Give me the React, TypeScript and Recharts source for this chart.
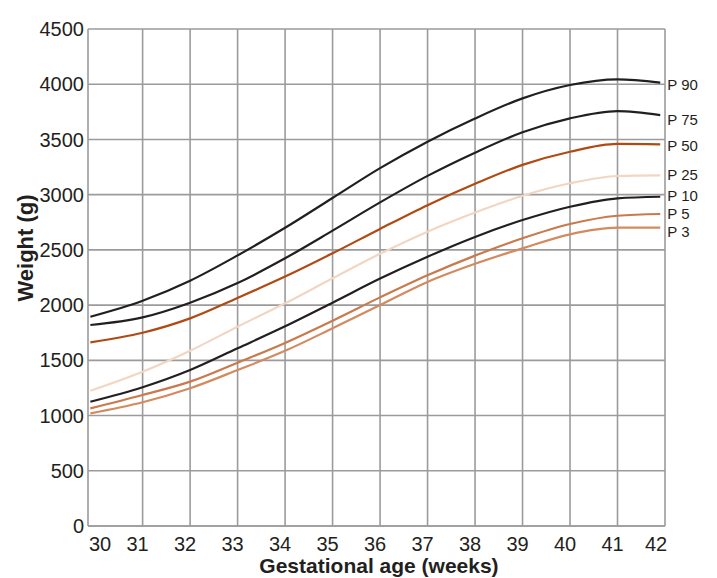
import { LineChart, Line, XAxis, YAxis, CartesianGrid, ReferenceLine } from 'recharts'

const weeks = [29.9, 31, 32, 33, 34, 35, 36, 37, 38, 39, 40, 41, 41.9]

const p90 = [1895, 2040, 2221, 2450, 2700, 2970, 3240, 3480, 3690, 3872, 3993, 4044, 4014]
const p75 = [1820, 1889, 2022, 2200, 2424, 2674, 2930, 3170, 3380, 3565, 3691, 3757, 3721]
const p50 = [1663, 1750, 1880, 2065, 2258, 2469, 2690, 2905, 3098, 3270, 3389, 3459, 3455]
const p25 = [1225, 1397, 1587, 1805, 2016, 2243, 2465, 2665, 2838, 2990, 3103, 3169, 3175]
const p10 = [1125, 1256, 1412, 1609, 1808, 2022, 2240, 2438, 2617, 2770, 2891, 2967, 2981]
const p5 = [1065, 1186, 1307, 1479, 1658, 1859, 2070, 2270, 2448, 2605, 2734, 2809, 2825]
const p3 = [1020, 1120, 1247, 1412, 1586, 1790, 2001, 2210, 2374, 2514, 2641, 2701, 2701]

const xTicks = [30, 31, 32, 33, 34, 35, 36, 37, 38, 39, 40, 41, 42]
const yTicks = [0, 500, 1000, 1500, 2000, 2500, 3000, 3500, 4000, 4500]
const gridWeeks = [31, 32, 33, 34, 35, 36, 37, 38, 39, 40, 41, 42]

const series = [
  { key: 'P 90', values: p90, color: '#231f20', shift: 2 },
  { key: 'P 75', values: p75, color: '#231f20', shift: 4 },
  { key: 'P 50', values: p50, color: '#b04a12', shift: 1 },
  { key: 'P 25', values: p25, color: '#f2d6c2', shift: -1 },
  { key: 'P 10', values: p10, color: '#231f20', shift: -1 },
  { key: 'P 5', values: p5, color: '#c97a4c', shift: 0 },
  { key: 'P 3', values: p3, color: '#d38a5e', shift: 4 },
]

const data = weeks.map((w, i) => {
  const row: Record<string, number> = { week: w }
  series.forEach(s => { row[s.key] = s.values[i] })
  return row
})

const FONT = '"Liberation Sans", Arial, sans-serif'
const GRID = '#9b9b9b'

function XTick(props: any) {
  const { x, y, payload } = props
  const dx = payload.value === 30 ? 5 : payload.value === 42 ? -9 : -5
  return (
    <text x={x + dx} y={y + 23} textAnchor="middle" fontSize={20} fontFamily={FONT} fill="#231f20">
      {payload.value}
    </text>
  )
}

function endLabel(name: string, shift: number) {
  return (props: any) => {
    const { x, y, index } = props
    if (index !== weeks.length - 1) return <g />
    return (
      <text x={x + 7} y={y + shift} dominantBaseline="central" fontSize={15} fontFamily={FONT} fill="#231f20">
        {name}
      </text>
    )
  }
}

export default function App() {
  return (
    <div style={{ position: 'absolute', left: 0, top: 0, background: '#fff' }}>
      <LineChart
        width={717}
        height={578}
        data={data}
        margin={{ top: 29, right: 52, left: 0, bottom: 0 }}
      >
        <CartesianGrid vertical={false} stroke={GRID} strokeWidth={1.6} />
        {gridWeeks.map(w => (
          <ReferenceLine key={w} x={w} stroke={GRID} strokeWidth={1.6} />
        ))}
        <XAxis
          dataKey="week"
          type="number"
          domain={[29.85, 42]}
          ticks={xTicks}
          allowDataOverflow
          height={52}
          tickLine={false}
          tickSize={0}
          axisLine={{ stroke: GRID, strokeWidth: 1.6 }}
          tick={<XTick />}
          label={{
            content: () => (
              <text x={379} y={573} textAnchor="middle" fontSize={21} fontWeight="bold" fontFamily={FONT} fill="#231f20">
                Gestational age (weeks)
              </text>
            ),
          }}
        />
        <YAxis
          type="number"
          domain={[0, 4500]}
          ticks={yTicks}
          width={88}
          tickLine={false}
          tickSize={0}
          tickMargin={4}
          axisLine={{ stroke: GRID, strokeWidth: 1.6 }}
          tick={{ fontSize: 20, fontFamily: FONT, fill: '#231f20' }}
          label={{
            content: () => (
              <text
                x={25}
                y={248}
                transform="rotate(-90 25 248)"
                textAnchor="middle"
                dominantBaseline="central"
                fontSize={22}
                fontWeight="bold"
                fontFamily={FONT}
                fill="#231f20"
              >
                Weight (g)
              </text>
            ),
          }}
        />
        {series.map(s => (
          <Line
            key={s.key}
            type="monotone"
            dataKey={s.key}
            stroke={s.color}
            strokeWidth={2.2}
            dot={false}
            isAnimationActive={false}
            label={endLabel(s.key, s.shift)}
          />
        ))}
      </LineChart>
    </div>
  )
}
